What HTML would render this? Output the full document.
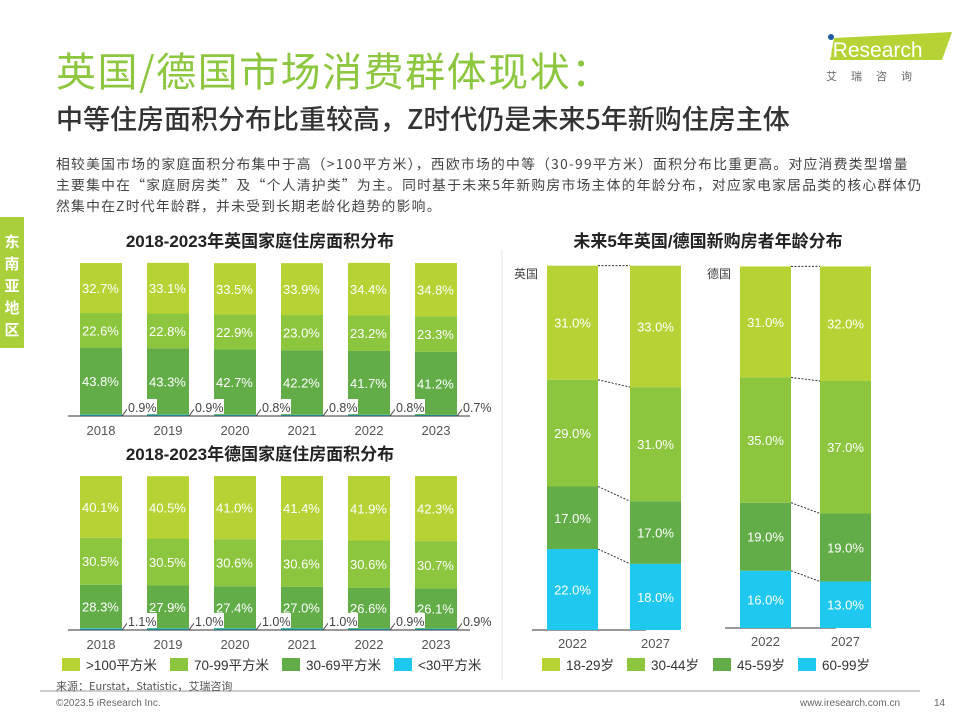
<!DOCTYPE html>
<html><head><meta charset="utf-8">
<style>
body{margin:0;width:960px;height:720px;background:#fff;font-family:"Liberation Sans","Noto Sans CJK SC",sans-serif;overflow:hidden;position:relative}
.abs{position:absolute}
</style></head>
<body>
<div class="abs" style="left:56px;top:40px;font-size:40px;color:#8dc63f;font-family:'Noto Sans CJK SC',sans-serif;letter-spacing:1.5px">英国/德国市场消费群体现状：</div>
<div class="abs" style="left:56px;top:98px;font-size:27px;color:#333;font-weight:500;font-family:'Noto Sans CJK SC',sans-serif">中等住房面积分布比重较高，Z时代仍是未来5年新购住房主体</div>
<div class="abs" style="left:56px;top:153px;white-space:nowrap;font-size:13.8px;letter-spacing:1.25px;line-height:21px;color:#444;font-family:'Noto Sans CJK SC',sans-serif">相较美国市场的家庭面积分布集中于高（&gt;100平方米），西欧市场的中等（30-99平方米）面积分布比重更高。对应消费类型增量<br>主要集中在“家庭厨房类”及“个人清护类”为主。同时基于未来5年新购房市场主体的年龄分布，对应家电家居品类的核心群体仍<br>然集中在Z时代年龄群，并未受到长期老龄化趋势的影响。</div>
<div class="abs" style="left:0;top:217px;width:24px;height:131px;background:#a9cf3a;color:#fff;font-weight:bold;font-size:15px;line-height:22px;text-align:center;padding-top:14px;box-sizing:border-box;font-family:'Noto Sans CJK SC',sans-serif">东<br>南<br>亚<br>地<br>区</div>
<div class="abs" style="left:820px;top:30px;width:135px;height:34px">
<svg width="135" height="34"><polygon points="14,8 132,2 122,30 10,30" fill="#b5d334"/><circle cx="11" cy="7" r="3" fill="#1e5aa0"/><text x="8" y="27" font-size="21" fill="#fff" font-family="Liberation Sans">iResearch</text></svg></div>
<div class="abs" style="left:826px;top:68px;font-size:11px;color:#666;letter-spacing:14px;font-family:'Noto Sans CJK SC',sans-serif">艾瑞咨询</div>

<svg class="abs" style="left:0;top:0" width="960" height="720" id="chart">
<text x="260" y="247" text-anchor="middle" font-size="17" font-weight="bold" fill="#222" font-family="Liberation Sans,Noto Sans CJK SC,sans-serif">2018-2023年英国家庭住房面积分布</text>
<text x="260" y="460" text-anchor="middle" font-size="17" font-weight="bold" fill="#222" font-family="Liberation Sans,Noto Sans CJK SC,sans-serif">2018-2023年德国家庭住房面积分布</text>
<text x="708" y="247" text-anchor="middle" font-size="17" font-weight="bold" fill="#222" font-family="Liberation Sans,Noto Sans CJK SC,sans-serif">未来5年英国/德国新购房者年龄分布</text>
<line x1="502" y1="250" x2="502" y2="680" stroke="#e6e6e6"/>
<line x1="40" y1="691" x2="920" y2="691" stroke="#bbb" stroke-width="1.5"/>
</svg>

<div class="abs" style="left:56px;top:678px;font-size:11px;color:#555;font-family:'Noto Sans CJK SC',sans-serif">来源：Eurstat，Statistic，艾瑞咨询</div>
<div class="abs" style="left:56px;top:698px;font-size:10px;color:#666">©2023.5 iResearch Inc.</div>
<div class="abs" style="left:800px;top:698px;font-size:10px;color:#666">www.iresearch.com.cn</div>
<div class="abs" style="left:934px;top:698px;font-size:10px;color:#666">14</div>

<script>
const years=["2018","2019","2020","2021","2022","2023"];
const ukBig=[32.7,33.1,33.5,33.9,34.4,34.8];
const ukMid=[22.6,22.8,22.9,23.0,23.2,23.3];
const ukSmall=[43.8,43.3,42.7,42.2,41.7,41.2];
const ukTiny=[0.9,0.9,0.8,0.8,0.8,0.7];
const deBig=[40.1,40.5,41.0,41.4,41.9,42.3];
const deMid=[30.5,30.5,30.6,30.6,30.6,30.7];
const deSmall=[28.3,27.9,27.4,27.0,26.6,26.1];
const deTiny=[1.1,1.0,1.0,1.0,0.9,0.9];
const areaLegend=[">100平方米","70-99平方米","30-69平方米","<30平方米"];
const ageYears=["2022","2027"];
const ukAge18=[31,33],ukAge30=[29,31],ukAge45=[17,17],ukAge60=[22,18];
const deAge18=[31,32],deAge30=[35,37],deAge45=[19,19],deAge60=[16,13];
const ageLegend=["18-29岁","30-44岁","45-59岁","60-99岁"];
const C=["#b5d334","#8cc63f","#62ad47","#1ec8ef"];
const svg=document.getElementById('chart');
const NS="http://www.w3.org/2000/svg";
function mk(tag,a,txt){const e=document.createElementNS(NS,tag);for(const k in a)e.setAttribute(k,a[k]);if(txt!==undefined)e.textContent=txt;svg.appendChild(e);return e;}
function fmt(v){return v.toFixed(1)+"%";}
function areaChart(base,scale,series,prefix){
  const xs=i=>80+i*67;
  years.forEach((y,i)=>{
    let cur=base;
    [3,2,1,0].forEach(s=>{
      const v=series[s][i];const h=v*scale;
      const r=mk('rect',{x:xs(i),y:cur-h,width:42,height:h,fill:C[s]});
      
      
      if(s<3){const t=mk('text',{x:xs(i)+2,y:cur-h/2+5,'font-size':13,fill:'#fff'},fmt(v));
        }
      cur-=h;
    });
  });
  mk('line',{x1:68,y1:base,x2:470,y2:base,stroke:'#333'});
  years.forEach((y,i)=>{
    mk('line',{x1:xs(i)+42,y1:base,x2:xs(i)+48,y2:base-8,stroke:'#444'});
    mk('rect',{x:xs(i)+47,y:base-17,width:30,height:15,fill:'#fff'});
    const t=mk('text',{x:xs(i)+48,y:base-4,'font-size':12.5,fill:'#444'},fmt(series[3][i]));
    
    const yl=mk('text',{x:xs(i)+21,y:base+19,'text-anchor':'middle','font-size':13,fill:'#555'},y);
    
  });
}
areaChart(416,1.53,[ukBig,ukMid,ukSmall,ukTiny],'uk-area');
areaChart(630,1.54,[deBig,deMid,deSmall,deTiny],'de-area');
areaLegend.forEach((l,i)=>{
  const x=[62,170,282,394][i];
  const r=mk('rect',{x:x,y:658,width:18,height:13,fill:C[i]});
  
  const t=mk('text',{x:x+24,y:670,'font-size':13.5,fill:'#333','font-family':'Liberation Sans,Noto Sans CJK SC,sans-serif'},l);
  
});
function ageChart(x0,x1,base,scale,series,prefix,label){
  const xs=[x0,x1];
  mk('line',{x1:x0-15,y1:base,x2:x1+16,y2:base,stroke:'#333'});
  const tops=[];
  ageYears.forEach((y,i)=>{
    let cur=base;const edges=[base];
    [3,2,1,0].forEach(s=>{
      const v=series[s][i];const h=v*scale;
      const r=mk('rect',{x:xs[i],y:cur-h,width:51,height:h,fill:C[s]});
      
      const t=mk('text',{x:xs[i]+25.5,y:cur-h/2+5,'text-anchor':'middle','font-size':13,fill:'#fff'},v.toFixed(1)+"%");
      
      cur-=h;edges.push(cur);
    });
    tops.push(edges);
    const yl=mk('text',{x:xs[i]+25.5,y:base+18,'text-anchor':'middle','font-size':13,fill:'#555'},y);
    
  });
  for(let k=1;k<=4;k++){mk('line',{x1:x0+51,y1:tops[0][k],x2:x1,y2:tops[1][k],stroke:'#333','stroke-dasharray':'2,1.5'});}
  const t=mk('text',{x:x0-33,y:278,'font-size':12,fill:'#444','font-family':'Noto Sans CJK SC,sans-serif'},label);
  
}
ageChart(547,630,630,3.68,[ukAge18,ukAge30,ukAge45,ukAge60],'uk-age','英国');
ageChart(740,820,628,3.58,[deAge18,deAge30,deAge45,deAge60],'de-age','德国');
ageLegend.forEach((l,i)=>{
  const x=[542,627,713,798][i];
  const r=mk('rect',{x:x,y:658,width:18,height:13,fill:C[i]});
  
  const t=mk('text',{x:x+24,y:670,'font-size':13.5,fill:'#333','font-family':'Liberation Sans,Noto Sans CJK SC,sans-serif'},l);
  
});
</script>
</body></html>
